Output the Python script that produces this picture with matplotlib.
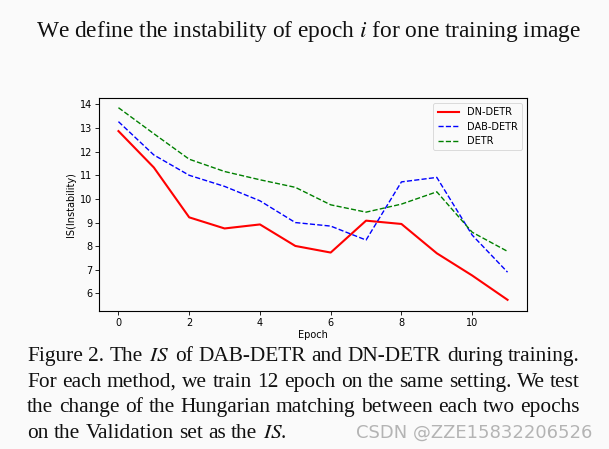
import matplotlib
matplotlib.use("Agg")
import matplotlib.pyplot as plt

epochs = list(range(12))
dn_detr = [12.87, 11.33, 9.22, 8.75, 8.92, 8.01, 7.73, 9.08, 8.94, 7.70, 6.76, 5.73]
dab_detr = [13.27, 11.86, 11.00, 10.53, 9.92, 9.00, 8.85, 8.26, 10.72, 10.91, 8.47, 6.90]
detr = [13.86, 12.76, 11.68, 11.16, 10.81, 10.49, 9.75, 9.44, 9.78, 10.30, 8.59, 7.78]
yticks = [6, 7, 8, 9, 10, 11, 12, 13, 14]
xticks = [0, 2, 4, 6, 8, 10]

plt.rcParams['mathtext.fontset'] = 'stix'
bg = '#fafafa'
W, H = 609, 449
fig = plt.figure(figsize=(W / 100, H / 100), dpi=100, facecolor=bg)

fig.text(309/W, 1 - 31/H, r"We define the instability of epoch $i$ for one training image",
         ha='center', va='center', fontsize=16.8, family='Liberation Serif', color='#111111')

ax = fig.add_axes([99/W, 1 - 310.7/H, 428/W, 212.7/H])
ax.set_facecolor(bg)
ax.plot(epochs, dn_detr, color='red', lw=1.5, label='DN-DETR')
ax.plot(epochs, dab_detr, color='blue', lw=1.0, ls='--', label='DAB-DETR')
ax.plot(epochs, detr, color='green', lw=1.0, ls='--', label='DETR')
ax.set_xticks(xticks)
ax.set_yticks(yticks)
ax.set_xlim(-0.55, 11.55)
ax.set_ylim(5.27, 14.27)
ax.tick_params(labelsize=7, length=3, width=0.6, pad=2)
for s in ax.spines.values():
    s.set_linewidth(0.8)
ax.set_xlabel('Epoch', fontsize=7, labelpad=1.5)
ax.set_ylabel('IS(Instability)', fontsize=7, labelpad=3)
leg = ax.legend(loc='upper right', fontsize=7, frameon=True, handlelength=2.2,
                borderpad=0.45, labelspacing=0.45, handletextpad=0.8)
leg.get_frame().set_facecolor(bg)
leg.get_frame().set_linewidth(0.6)

lines = [r"Figure 2. The $IS$ of DAB-DETR and DN-DETR during training.",
         r"For each method, we train 12 epoch on the same setting. We test",
         r"the change of the Hungarian matching between each two epochs",
         r"on the Validation set as the $IS$."]
ys = [361, 387, 412, 438]
fs = 15.4
x0, x1 = 27, 580
renderer = fig.canvas.get_renderer()
sp_obj = fig.text(0, 0, 'a a', fontsize=fs, family='Liberation Serif')
aa = fig.text(0, 0, 'aa', fontsize=fs, family='Liberation Serif')
space = sp_obj.get_window_extent(renderer).width - aa.get_window_extent(renderer).width
sp_obj.remove(); aa.remove()
for i, (t, y) in enumerate(zip(lines, ys)):
    words = t.split(' ')
    objs = [fig.text(0, 1 - y/H, w, ha='left', va='baseline', fontsize=fs,
                     family='Liberation Serif', color='#111111') for w in words]
    widths = [o.get_window_extent(renderer).width for o in objs]
    if i < len(lines) - 1:
        gap = (x1 - x0 - sum(widths)) / (len(words) - 1)
    else:
        gap = space
    x = x0
    for o, w in zip(objs, widths):
        o.set_x(x / W)
        x += w + gap

fig.text(592/W, 1 - 433/H, "CSDN @ZZE15832206526", ha='right', va='center',
         fontsize=13, family='DejaVu Sans', color='#b4b4b4')

fig.savefig('out.png', dpi=100, facecolor=bg)
